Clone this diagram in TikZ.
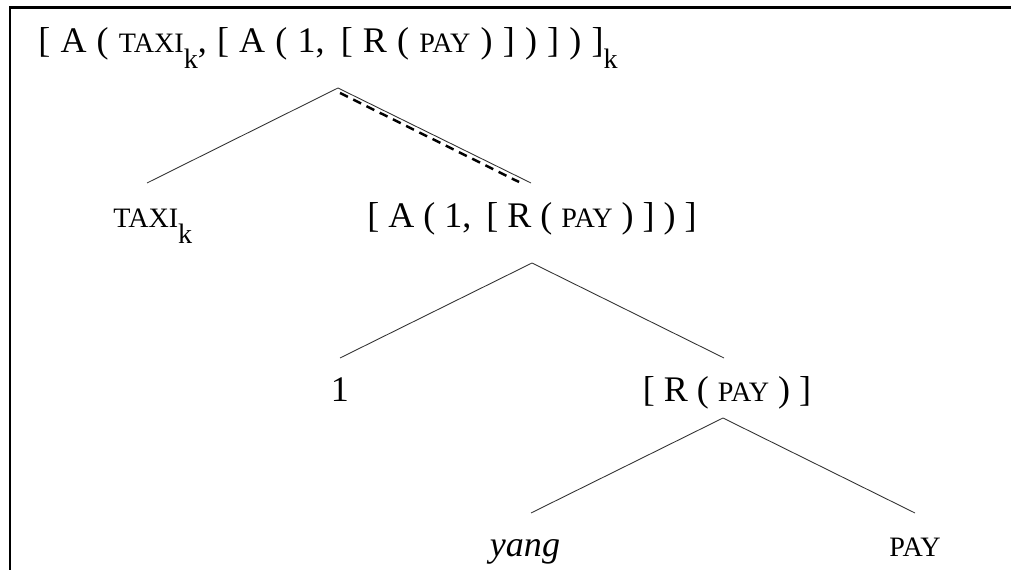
\documentclass[tikz,border=0pt]{standalone}
\usepackage{fontspec}
\setmainfont{Liberation Serif}
\usetikzlibrary{positioning}
\newcommand{\smc}[1]{{\fontsize{16}{18}\selectfont #1}}
\newcommand{\ix}[1]{\raisebox{-9pt}{\fontsize{16}{18}\selectfont #1}}

\begin{document}
\begin{tikzpicture}[x=0.02cm, y=-0.02cm, font=\fontsize{20.5}{24}\selectfont,
    branch/.style={line width=0.5pt, black!80},
    label/.style={inner sep=0pt}]

\useasboundingbox (0,0) rectangle (1011,570);

% marco
\draw[line width=1.7pt] (10,570) -- (10,8) -- (1011,8);

% --- etiquetas ---
\node[label, anchor=base west] (top) at (38,53)
    {\spaceskip=5.8pt [ A ( \smc{TAXI}\ix{k}, [ A ( 1,\, [ R ( \smc{PAY} ) ] ) ] ) ]\ix{k}};
\node[label, anchor=base west] (taxi) at (113,228) {\smc{TAXI}\ix{k}};
\node[label, anchor=base] (mid) at (532,228) {[ A ( 1,\, [ R ( \smc{PAY} ) ] ) ]};
\node[label, anchor=base] (one) at (340,402) {1};
\node[label, anchor=base] (rp) at (727,402) {[ R ( \smc{PAY} ) ]};
\node[label, anchor=base] (yang) at (525,557) {\textit{yang}};
\node[label, anchor=base] (pay) at (915,557) {\smc{PAY}};

% --- puntos de las ramas ---
\coordinate (top-v) at (338,88);
\coordinate (taxi-t) at (147,183);
\coordinate (mid-t) at (531,183);
\coordinate (mid-v) at (532,263);
\coordinate (one-t) at (340,358);
\coordinate (rp-t) at (724,358);
\coordinate (rp-v) at (723,418);
\coordinate (yang-t) at (531,513);
\coordinate (pay-t) at (915,513);

% --- ramas ---
\draw[branch] (taxi-t) -- (top-v) -- (mid-t);
\draw[branch] (one-t) -- (mid-v) -- (rp-t);
\draw[branch] (yang-t) -- (rp-v) -- (pay-t);

% --- camino punteado ---
\draw[line width=1.4pt, dash pattern=on 5pt off 3.4pt]
    ([shift={(2,5)}]top-v) -- ([shift={(-12,-1)}]mid-t);

\end{tikzpicture}
\end{document}
